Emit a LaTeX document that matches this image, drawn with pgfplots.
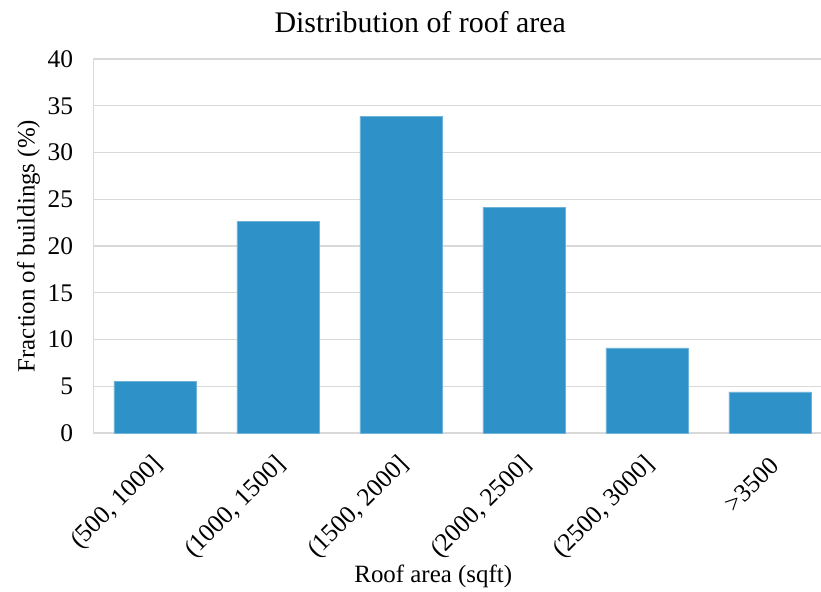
\documentclass[border=0pt]{standalone}
\usepackage{fontspec}
\setmainfont{Liberation Serif}
\usepackage{pgfplots}
\pgfplotsset{compat=1.18}
\definecolor{barblue}{HTML}{2E92C8}
\definecolor{gridgray}{HTML}{D9D9D9}
\begin{document}
\begin{tikzpicture}
\begin{axis}[
  scale only axis,
  width=727.5bp, height=374bp,
  xmin=-0.5, xmax=5.415,
  ymin=0, ymax=40,
  ytick={0,5,...,40},
  xtick={0,1,2,3,4,5},
  xticklabels={{(500, 1000]},{(1000, 1500]},{(1500, 2000]},{(2000, 2500]},{(2500, 3000]},{>3500}},
  xticklabel style={font=\fontsize{25.5}{28}\selectfont, xshift=7bp, yshift=-26bp, rotate=45, anchor=east},
  yticklabel style={font=\fontsize{25.5}{28}\selectfont, xshift=-17bp},
  /pgf/number format/assume math mode=true,
  ymajorgrids,
  grid style={gridgray, line width=1.2bp},
  axis line style={gridgray, line width=1.2bp},
  axis x line*=bottom,
  axis y line*=left,
  major tick length=0pt,
  title={Distribution of roof area},
  title style={font=\fontsize{30}{34}\selectfont, anchor=base, yshift=21bp, xshift=-37bp},
  xlabel={Roof area (sqft)},
  xlabel style={font=\fontsize{25}{28}\selectfont, at={(rel axis cs:0.5,0)}, anchor=base, yshift=-149bp, xshift=-24bp},
  ylabel={Fraction of buildings (\%)},
  ylabel style={font=\fontsize{25}{28}\selectfont, at={(rel axis cs:0,0.5)}, anchor=center, yshift=65bp},
  ybar, bar width=82bp,
  clip=false,
]
\addplot[fill=barblue, draw=barblue!70!white, line width=0.6bp] coordinates {
  (0,5.5) (1,22.6) (2,33.9) (3,24.1) (4,9.1) (5,4.4)
};
\coordinate (bl) at (rel axis cs:0,0);
\end{axis}
% fix the page to the frame around the plot area
\pgfresetboundingbox
\path ([shift={(-93.5bp,-159bp)}]bl) rectangle ([shift={(727.5bp,433bp)}]bl);
\end{tikzpicture}
\end{document}
